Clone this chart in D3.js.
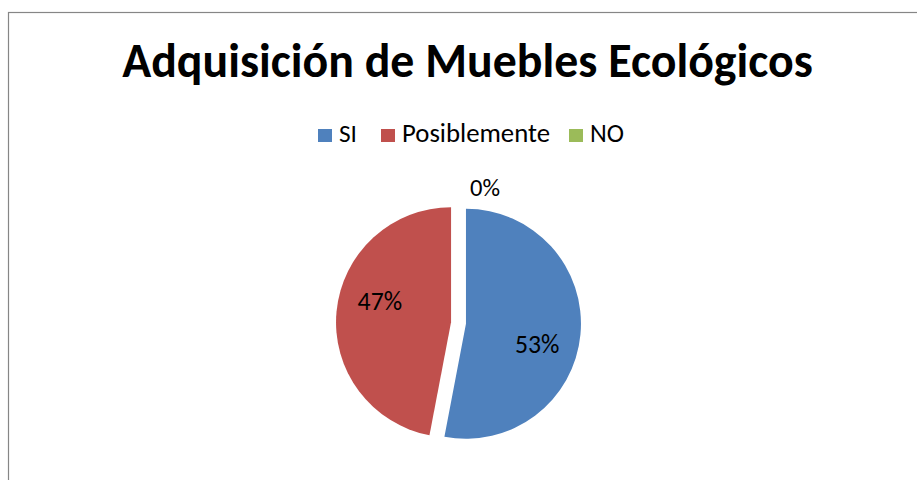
<!DOCTYPE html>
<html><head><meta charset="utf-8">
<script src="https://cdn.jsdelivr.net/npm/d3@7"></script>
<style>
html,body{margin:0;padding:0;background:#fff;}
svg{display:block;}
text{font-family:Carlito,"Open Sans","Noto Sans",sans-serif;fill:#000;}
</style></head>
<body>
<script>
const title = "Adquisición de Muebles Ecológicos";
const categories = ["SI", "Posiblemente", "NO"];
const values = [53, 47, 0];
const labels = ["53%", "47%", "0%"];
const colors = ["#4F81BD", "#C0504D", "#9BBB59"];

const W = 917, H = 480;
const svg = d3.select("body").append("svg").attr("width", W).attr("height", H);

// outer chart border (left and top visible)
svg.append("rect").attr("x", 8.5).attr("y", 12.5).attr("width", 920).attr("height", 500)
  .attr("fill", "#fff").attr("stroke", "#868686").attr("stroke-width", 1.2);

function fitText(sel, target) {
  const w = sel.node().getComputedTextLength();
  const fs = parseFloat(sel.attr("font-size"));
  sel.attr("font-size", fs * target / w);
}

const t = svg.append("text").attr("x", 467.5).attr("y", 77).attr("text-anchor", "middle")
  .attr("font-size", 40).attr("font-weight", "bold").text(title);
fitText(t, 691);

// legend
const legendX = [318, 381, 569];
const legendTextW = [18, 148, 34];
const lg = svg.append("g");
categories.forEach((c, i) => {
  lg.append("rect").attr("x", legendX[i]).attr("y", 129).attr("width", 14).attr("height", 13).attr("fill", colors[i]);
  const tx = lg.append("text").attr("x", legendX[i] + 21).attr("y", 142).attr("font-size", 20).text(c);
  fitText(tx, legendTextW[i]);
});

// pie
const cx = 458.5, cy = 323, r = 115, explode = 7.5;
const pie = d3.pie().sort(null).value(d => d)(values);
const arc = d3.arc().innerRadius(0).outerRadius(r);
const g = svg.append("g").attr("transform", `translate(${cx},${cy})`);
pie.forEach((p, i) => {
  const mid = (p.startAngle + p.endAngle) / 2;
  const dx = Math.sin(mid) * explode, dy = -Math.cos(mid) * explode;
  if (p.endAngle > p.startAngle) {
    g.append("path").attr("d", arc(p)).attr("fill", colors[i])
      .attr("transform", `translate(${dx},${dy})`);
  }
  let lx, ly;
  if (p.value > 0) {
    const a = mid + 0.19;
    const lr = r * 0.645;
    lx = dx + Math.sin(a) * lr; ly = dy - Math.cos(a) * lr;
  } else {
    lx = dx + 26.5; ly = dy - r - 12.5;
  }
  const lt = g.append("text").attr("x", lx).attr("y", ly).attr("text-anchor", "middle")
    .attr("dominant-baseline", "central").attr("font-size", 20).text(labels[i]);
  fitText(lt, p.value > 0 ? 44.5 : 30);
});
</script>
</body></html>
